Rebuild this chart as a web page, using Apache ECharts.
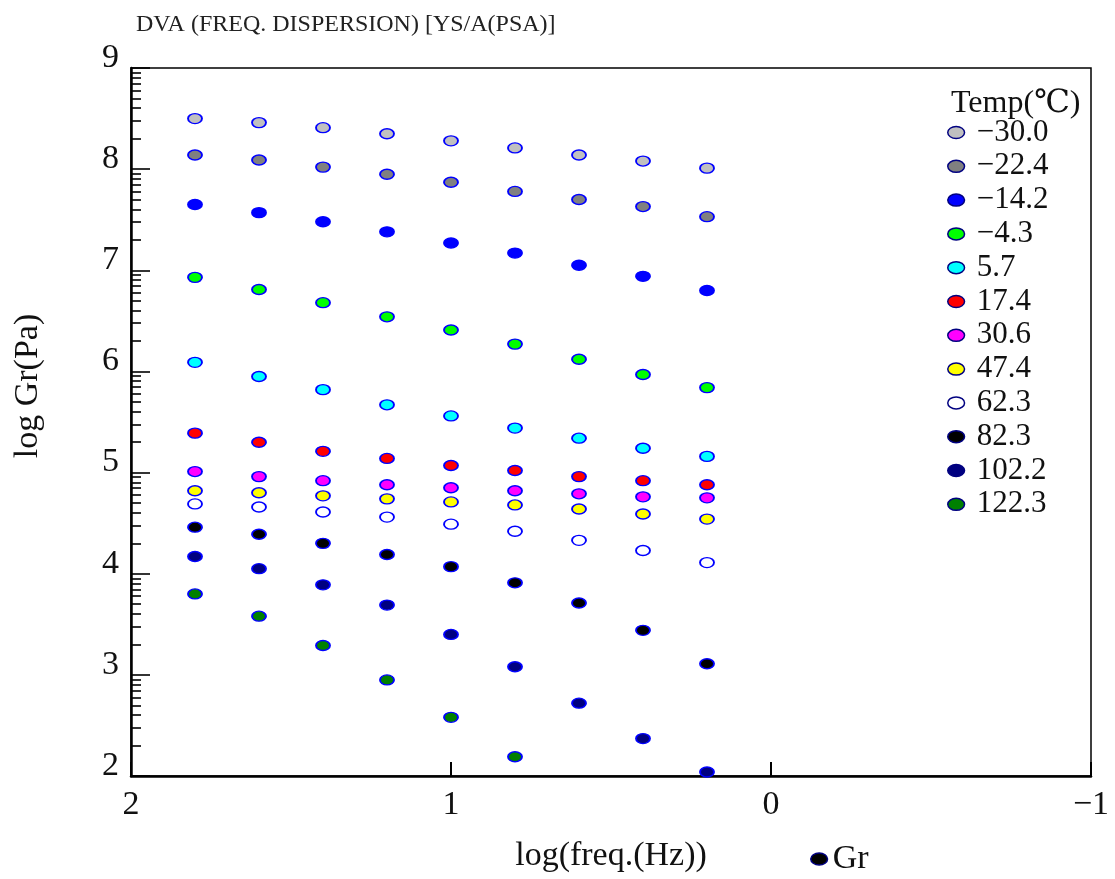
<!DOCTYPE html>
<html>
<head>
<meta charset="utf-8">
<script src="https://cdn.jsdelivr.net/npm/echarts@6/dist/echarts.min.js"></script>
<style>html,body{margin:0;padding:0;background:#fff;}#chart{width:1115px;height:879px;}</style>
</head>
<body>
<div id="chart"></div>
<script>
// ---- data ----
const logFreq = [1.8, 1.6, 1.4, 1.2, 1.0, 0.8, 0.6, 0.4, 0.2];
const tempLabels = ['−30.0', '−22.4', '−14.2', '−4.3', '5.7', '17.4', '30.6', '47.4', '62.3', '82.3', '102.2', '122.3'];
const fillColors = ['#c0c0c0', '#808080', '#0000ff', '#00ff00', '#00ffff', '#ff0000', '#ff00ff', '#ffff00', '#ffffff', '#000000', '#000080', '#008000'];

const grM30_0 = [8.50, 8.46, 8.41, 8.35, 8.28, 8.21, 8.14, 8.08, 8.01];
const grM22_4 = [8.14, 8.09, 8.02, 7.95, 7.87, 7.78, 7.70, 7.63, 7.53];
const grM14_2 = [7.65, 7.57, 7.48, 7.38, 7.27, 7.17, 7.05, 6.94, 6.80];
const grM4_3  = [6.93, 6.81, 6.68, 6.54, 6.41, 6.27, 6.12, 5.97, 5.84];
const gr5_7   = [6.09, 5.95, 5.82, 5.67, 5.56, 5.44, 5.34, 5.24, 5.16];
const gr17_4  = [5.39, 5.30, 5.21, 5.14, 5.07, 5.02, 4.96, 4.92, 4.88];
const gr30_6  = [5.01, 4.96, 4.92, 4.88, 4.85, 4.82, 4.79, 4.76, 4.75];
const gr47_4  = [4.82, 4.80, 4.77, 4.74, 4.71, 4.68, 4.64, 4.59, 4.54];
const gr62_3  = [4.69, 4.66, 4.61, 4.56, 4.49, 4.42, 4.33, 4.23, 4.11];
const gr82_3  = [4.46, 4.39, 4.30, 4.19, 4.07, 3.91, 3.71, 3.44, 3.11];
const gr102_2 = [4.17, 4.05, 3.89, 3.69, 3.40, 3.08, 2.72, 2.37, 2.04];
const gr122_3 = [3.80, 3.58, 3.29, 2.95, 2.58, 2.19, null, null, null];
const seriesValues = [grM30_0, grM22_4, grM14_2, grM4_3, gr5_7, gr17_4, gr30_6, gr47_4, gr62_3, gr82_3, gr102_2, gr122_3];

const xTickLabels = {'2': '2', '1': '1', '0': '0', '-1': '−1'};
const yTickLabels = ['2', '3', '4', '5', '6', '7', '8', '9'];

// minor ticks in log style within each decade of log Gr
const yMinorTicks = [];
for (let n = 2; n < 9; n++) {
  for (let k = 2; k <= 9; k++) yMinorTicks.push(n + Math.log10(k));
}

const FONT = '"Liberation Serif", "DejaVu Serif", serif';
const ellipse = 'path://M0,5a7,5 0 1,0 14,0a7,5 0 1,0 -14,0z';

const series = tempLabels.map((name, i) => ({
  name: name,
  type: 'scatter',
  symbol: ellipse,
  symbolSize: [14, 10],
  itemStyle: { color: fillColors[i], borderColor: '#0000ff', borderWidth: 1.6, opacity: 1 },
  data: logFreq.map((x, j) => seriesValues[i][j] == null ? null : [x, seriesValues[i][j]]).filter(d => d),
  z: 3
}));
series.push({
  name: 'Gr', type: 'scatter', symbol: ellipse, symbolSize: [14, 10], color: '#000000',
  itemStyle: { color: '#000000', borderColor: '#000080', borderWidth: 1.5, opacity: 1 }, data: []
});

const chart = echarts.init(document.getElementById('chart'));
chart.setOption({
  animation: false,
  backgroundColor: '#ffffff',
  title: [
    { text: 'DVA (FREQ. DISPERSION) [YS/A(PSA)]', left: 131, top: 8,
      textStyle: { fontFamily: FONT, fontSize: 24, fontWeight: 'normal', color: '#222' } },
    { text: 'Temp(℃)', left: 946, top: 83,
      textStyle: { fontFamily: FONT, fontSize: 32, fontWeight: 'normal', color: '#111' } }
  ],
  grid: { left: 131, right: 24, top: 68, bottom: 103, show: true, borderColor: '#000', borderWidth: 1.5, backgroundColor: 'transparent' },
  legend: [
    { data: tempLabels, orient: 'vertical', left: 947, top: 117, padding: 0, itemGap: 2.8,
      itemWidth: 17, itemHeight: 12, icon: ellipse,
      itemStyle: { borderColor: '#000080', borderWidth: 1.5 },
      textStyle: { fontFamily: FONT, fontSize: 31, lineHeight: 31, color: '#111', padding: [0, 0, 0, 7] } },
    { data: ['Gr'], orient: 'vertical', left: 810, top: 842, padding: 0,
      itemWidth: 17, itemHeight: 12, icon: ellipse,
      itemStyle: { color: '#000000', borderColor: '#000080', borderWidth: 1.5, opacity: 1 },
      textStyle: { fontFamily: FONT, fontSize: 34, lineHeight: 33, color: '#111' } }
  ],
  xAxis: {
    type: 'value', min: -1, max: 2, interval: 1, inverse: true,
    axisLine: { show: true, onZero: false, lineStyle: { color: '#000', width: 2.5 } },
    axisTick: { show: true, inside: true, length: 14, lineStyle: { color: '#000', width: 2 } },
    axisLabel: { fontFamily: FONT, fontSize: 34, color: '#111', margin: 12, formatter: v => xTickLabels[String(v)] },
    splitLine: { show: false },
    name: 'log(freq.(Hz))', nameLocation: 'middle', nameGap: 63,
    nameTextStyle: { fontFamily: FONT, fontSize: 34, color: '#111' }
  },
  yAxis: [
    { type: 'value', min: 2, max: 9, interval: 1, position: 'left',
      axisLine: { show: true, onZero: false, lineStyle: { color: '#000', width: 2.5 } },
      axisTick: { show: true, inside: true, length: 19, lineStyle: { color: '#000', width: 1.6 } },
      axisLabel: { fontFamily: FONT, fontSize: 34, color: '#111', margin: 12, verticalAlign: 'bottom', lineHeight: 20,
        formatter: v => yTickLabels[Math.round(v) - 2] },
      splitLine: { show: false } },
    { type: 'value', min: 2, max: 9, interval: 1, position: 'left',
      axisLine: { show: false, onZero: false },
      axisTick: { show: true, inside: true, length: 10, customValues: yMinorTicks, lineStyle: { color: '#000', width: 1.6 } },
      axisLabel: { show: false },
      splitLine: { show: false } }
  ],
  graphic: [
    { type: 'text', x: 28, y: 386, rotation: Math.PI / 2,
      style: { text: 'log Gr(Pa)', font: '34px ' + FONT, fill: '#111', textAlign: 'center', textVerticalAlign: 'middle' } }
  ],
  series: series
});
</script>
</body>
</html>
